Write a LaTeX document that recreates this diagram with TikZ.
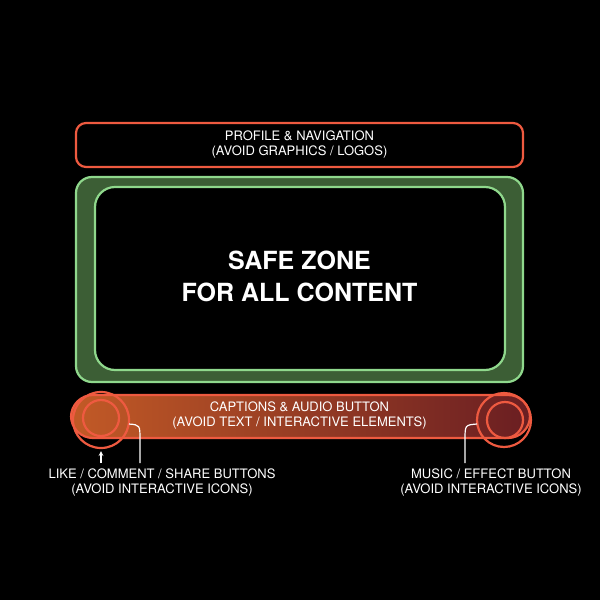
\documentclass[tikz,border=0pt]{standalone}
\usepackage{fontspec}
\setmainfont{TeX Gyre Heros}
\usetikzlibrary{positioning}
\definecolor{zonered}{HTML}{EE5A40}
\definecolor{zonegreen}{HTML}{8FD88C}
\definecolor{zonedark}{HTML}{3C5E35}
\definecolor{barleft}{HTML}{C25A26}
\definecolor{barright}{HTML}{6A1E22}
\tikzset{
  zonetext/.style={text=white,align=center,font=\fontsize{13}{15}\selectfont},
  callout/.style={white,line width=1.2pt},
}
\begin{document}
\begin{tikzpicture}[x=1pt,y=-1pt]
  \fill[black] (0,0) rectangle (600,600);
  \useasboundingbox (0,0) rectangle (600,600);

  % top strip
  \draw[zonered,line width=2.2pt,rounded corners=10pt] (76,123) rectangle (523,167);
  \node[zonetext] (profile) at (299.5,145) {PROFILE \& NAVIGATION\\(AVOID GRAPHICS / LOGOS)};

  % safe zone
  \draw[zonegreen,fill=zonedark,line width=2.2pt,rounded corners=16pt] (76,177) rectangle (523,382);
  \draw[zonegreen,fill=black,line width=2.2pt,rounded corners=20pt] (95,187) rectangle (505,370);
  \node[text=white,align=center,font=\bfseries\fontsize{25}{32}\selectfont] (safe) at (299.5,276) {SAFE ZONE\\FOR ALL CONTENT};

  % bottom strip
  \draw[zonered,line width=2.2pt,left color=barleft,right color=barright,rounded corners=22pt] (71,395) rectangle (530,438);
  \node[zonetext] (captions) at (299.5,416) {CAPTIONS \& AUDIO BUTTON\\(AVOID TEXT / INTERACTIVE ELEMENTS)};

  % buttons
  \draw[zonered,line width=2.2pt] (101,420) circle (28);
  \draw[zonered,line width=2.2pt] (101,418) circle (18);
  \draw[zonered,line width=2.2pt] (504,420) circle (27);
  \draw[zonered,line width=2.2pt] (505,420) circle (18);

  % labels
  \node[zonetext] (like) at (162,483) {LIKE / COMMENT / SHARE BUTTONS\\(AVOID INTERACTIVE ICONS)};
  \node[zonetext] (music) at (491,483) {MUSIC / EFFECT BUTTON\\(AVOID INTERACTIVE ICONS)};
  \coordinate (likeend) at (140,463);
  \coordinate (musicend) at (465,463);
  \draw[callout,->,>=stealth] (101,463) -- (101,451);
  \draw[callout] (129,424) .. controls (140,425) .. (140,440) -- (likeend);
  \draw[callout] (477,424) .. controls (465,425) .. (465,440) -- (musicend);
\end{tikzpicture}
\end{document}
